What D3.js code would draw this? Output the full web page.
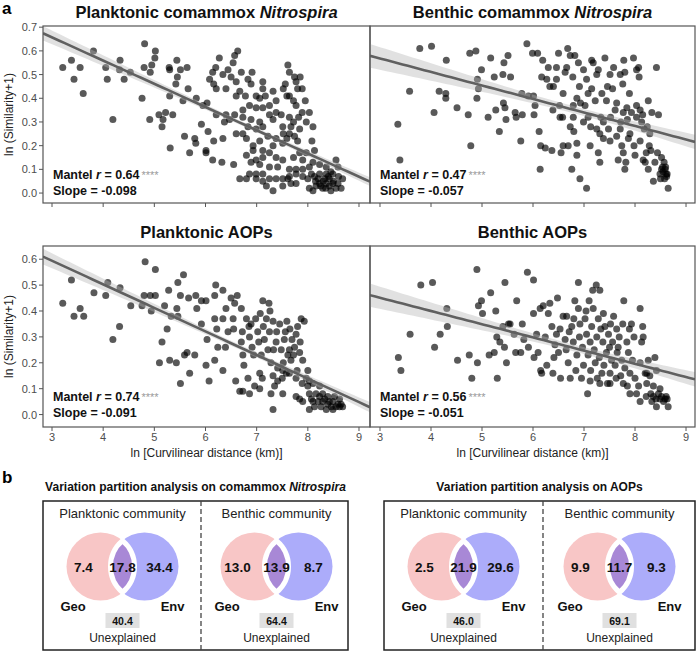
<!DOCTYPE html>
<html><head><meta charset="utf-8">
<script src="https://cdn.jsdelivr.net/npm/d3@7"></script>
<style>
body{margin:0;background:#fff}
svg{display:block}
text{font-family:"Liberation Sans",Arial,Helvetica,sans-serif}
</style>
</head><body>
<svg id="chart" width="697" height="652"></svg>
<script>
// ---------------- DATA ----------------
const xTicks = [3,4,5,6,7,8,9];
const yTicksTop = [0,0.1,0.2,0.3,0.4,0.5,0.6,0.7];
const yTicksBottom = [0,0.1,0.2,0.3,0.4,0.5,0.6];

const panelTitles = [
  ["Planktonic comammox ", "Nitrospira"],
  ["Benthic comammox ", "Nitrospira"],
  ["Planktonic AOPs", ""],
  ["Benthic AOPs", ""]
];
const mantelR = ["0.64","0.47","0.74","0.56"];
const slopeLabels = ["-0.098","-0.057","-0.091","-0.051"];
const slopes = [-0.098,-0.057,-0.091,-0.051];
const intercepts = [0.951,0.739,0.867,0.604];
const ciLeft = [0.03,0.05,0.03,0.045];

const pkComammox = [
[3.21,0.53],[3.38,0.56],[3.55,0.53],[3.43,0.48],[3.61,0.42],[3.81,0.60],[4.05,0.53],[4.08,0.48],[4.33,0.56],[4.32,0.52],[4.41,0.48],[4.53,0.51],[4.19,0.31],[4.76,0.40],[4.81,0.63],[5.02,0.60],[4.80,0.53],[4.95,0.54],[5.01,0.57],[4.92,0.51],[5.29,0.53],[5.30,0.52],[5.44,0.56],[5.51,0.52],[5.64,0.53],[5.45,0.49],[5.42,0.46],[5.66,0.44],[5.30,0.41],[5.56,0.39],[5.82,0.40],[5.95,0.37],[6.03,0.38],[4.91,0.31],[5.09,0.33],[5.22,0.34],[5.36,0.33],[5.15,0.28],[5.17,0.31],[5.59,0.24],[5.79,0.23],[5.81,0.21],[5.31,0.19],[5.69,0.17],[6.01,0.18],[6.05,0.26],[5.92,0.29],[6.14,0.14],[6.32,0.13],[6.55,0.12],[6.34,0.23],[6.16,0.22],[6.01,0.17],
[6.27,0.57],[6.20,0.53],[6.14,0.51],[6.08,0.48],[6.16,0.46],[6.34,0.50],[6.21,0.44],[6.40,0.44],[6.44,0.52],[6.54,0.55],[6.50,0.49],[6.57,0.58],[6.63,0.60],[6.70,0.51],[6.60,0.47],[6.67,0.43],[6.60,0.41],[6.91,0.51],[6.83,0.48],[6.89,0.46],[6.78,0.41],[6.99,0.41],[7.06,0.40],[7.17,0.41],[7.12,0.47],[7.12,0.44],[7.32,0.43],[7.38,0.39],[7.25,0.37],[7.12,0.36],[6.99,0.36],[6.86,0.37],[6.73,0.35],[6.57,0.33],[6.47,0.31],[6.37,0.30],[6.21,0.33],[6.40,0.33],[6.73,0.32],[6.89,0.31],[7.06,0.30],[7.25,0.33],[7.38,0.34],[7.48,0.33],[7.32,0.31],[7.12,0.28],[6.99,0.27],[6.83,0.28],[6.73,0.25],[6.60,0.25],[6.80,0.23],[6.93,0.20],[7.06,0.22],[7.22,0.24],[7.38,0.23],[7.51,0.28],[7.64,0.25],[7.51,0.21],[7.32,0.20],[7.12,0.18],[6.93,0.18],[6.80,0.16],[6.99,0.14],[7.12,0.15],[7.25,0.17],[7.38,0.15],[7.51,0.14],[7.41,0.11],[7.25,0.11],[7.06,0.12],[6.89,0.13],[6.86,0.08],[6.99,0.08],[7.12,0.08],[6.67,0.06],[6.80,0.06],[6.99,0.06],[7.12,0.05],[7.25,0.06],[7.38,0.06],[7.51,0.06],[7.64,0.07],[7.32,0.01],[7.19,0.03],[7.51,0.03],[7.67,0.04],[7.77,0.08],
[7.61,0.54],[7.64,0.51],[7.74,0.49],[7.77,0.47],[7.85,0.49],[7.56,0.46],[7.52,0.44],[7.64,0.41],[7.80,0.44],[7.89,0.44],[7.59,0.41],[7.72,0.39],[7.95,0.39],[7.77,0.37],[7.89,0.34],[8.03,0.34],[7.82,0.32],[7.64,0.32],[7.72,0.30],[7.97,0.30],[8.10,0.28],[7.84,0.27],[7.67,0.28],[7.74,0.24],[7.80,0.22],[7.59,0.23],[7.52,0.25],[8.08,0.22],[8.13,0.18],[7.97,0.17],[7.84,0.17],[7.72,0.15],[7.90,0.14],[8.10,0.13],[8.23,0.12],[8.03,0.11],[7.90,0.10],[7.77,0.10],[7.64,0.10],[7.61,0.06],[7.77,0.04],[7.90,0.07],[8.00,0.06],[8.13,0.07],[8.23,0.08],[8.36,0.08],[8.49,0.08],[8.59,0.11],[8.55,0.14],[8.68,0.06],[8.59,0.04],[8.49,0.04],[8.36,0.04],[8.23,0.04],[8.16,0.03],[8.03,0.02],[8.10,0.01],[8.29,0.02],[8.42,0.03],[8.55,0.02],[8.65,0.02],[8.33,0.06],[8.42,0.06],[8.20,0.06],[8.07,0.08],[8.36,0.11],[8.45,0.09],
[8.30,0.05],[8.40,0.07],[8.50,0.05],[8.25,0.03],[8.45,0.01],[8.60,0.07],[8.15,0.05],[8.35,0.02]
];

const bnComammox = [
[3.35,0.29],[3.39,0.14],[3.58,0.43],[3.78,0.61],[4.01,0.62],[4.06,0.34],[4.16,0.43],[4.29,0.42],[4.29,0.40],[4.30,0.56],[4.51,0.36],[4.73,0.33],[4.76,0.59],[4.88,0.60],[4.78,0.20],[4.91,0.48],[4.93,0.44],[4.90,0.40],[4.99,0.52],[5.12,0.32],[5.17,0.57],[5.24,0.49],[5.27,0.35],[5.34,0.26],[5.41,0.50],[5.42,0.38],[5.43,0.55],[5.45,0.36],[5.47,0.31],[5.51,0.58],[5.56,0.49],[5.65,0.34],[5.67,0.32],[5.76,0.22],[5.79,0.33],[5.78,0.42],[5.88,0.63],[5.91,0.41],[6.01,0.41],[5.99,0.59],[6.04,0.37],[6.02,0.33],[6.09,0.59],[6.12,0.26],[6.15,0.20],[6.14,0.10],[6.19,0.56],[6.24,0.19],[6.27,0.48],[6.30,0.53],[6.33,0.45],[6.39,0.35],[6.37,0.18],[6.40,0.45],[6.46,0.53],[6.50,0.59],[6.52,0.37],[6.53,0.32],[6.55,0.17],[6.58,0.32],[6.63,0.51],[6.66,0.53],[6.68,0.61],[6.69,0.20],[6.73,0.58],[6.76,0.10],[6.78,0.49],[6.79,0.37],[6.79,0.32],[6.80,0.26],[6.82,0.58],[6.86,0.16],[6.89,0.55],[6.91,0.45],[6.92,0.06],[6.93,0.38],[6.99,0.52],[7.02,0.37],[7.05,0.48],[7.08,0.42],[7.08,0.32],[7.12,0.20],[7.13,0.28],[7.15,0.44],[7.15,0.56],[7.18,0.55],[7.22,0.39],[7.25,0.50],[7.28,0.52],[7.28,0.17],[7.31,0.13],[7.33,0.32],[7.35,0.42],[7.38,0.23],[7.41,0.57],[7.44,0.39],[7.46,0.45],[7.48,0.27],[7.51,0.50],[7.52,0.32],[7.56,0.44],[7.58,0.53],[7.61,0.35],[7.64,0.38],[7.64,0.24],[7.67,0.14],[7.71,0.50],[7.72,0.30],[7.74,0.20],[7.76,0.46],[7.77,0.17],[7.78,0.56],[7.80,0.51],[7.80,0.10],[7.82,0.13],[7.84,0.36],[7.85,0.31],[7.89,0.42],[7.90,0.25],[7.93,0.34],[7.97,0.57],[7.98,0.20],[8.00,0.16],[8.03,0.52],[8.03,0.37],[8.07,0.53],[8.08,0.49],[8.10,0.22],[8.13,0.30],[8.15,0.33],[8.16,0.14],[8.18,0.27],[8.20,0.13],[8.22,0.17],[8.24,0.28],[8.26,0.10],[8.28,0.20],[8.31,0.18],[8.33,0.34],[8.36,0.05],[8.39,0.13],[8.42,0.53],[8.44,0.17],[8.46,0.33],[8.49,0.08],[8.52,0.15],[8.54,0.11],[8.57,0.13],[8.59,0.10],[8.61,0.08],[8.62,0.07],[8.65,0.02],[7.05,0.02],[6.17,0.49],[6.46,0.48],[6.59,0.42],[6.86,0.40],[6.99,0.30],[7.38,0.30],[7.31,0.25],[7.51,0.22],[7.71,0.27],[7.87,0.23],[7.77,0.34],[8.03,0.32],[8.10,0.35],[8.29,0.25],[8.26,0.39],[6.59,0.20],[6.73,0.28],[6.86,0.21],[7.25,0.27],
[8.55,0.09],[8.60,0.11],[8.58,0.06],[8.63,0.08],[8.52,0.10],[8.50,0.06]
];

const pkAOP = [
[3.21,0.43],[3.38,0.52],[3.43,0.38],[3.55,0.41],[3.62,0.38],[3.82,0.47],[4.05,0.46],[4.09,0.51],[4.19,0.29],[4.32,0.34],[4.33,0.49],[4.54,0.42],[4.76,0.42],[4.80,0.46],[4.82,0.59],[4.92,0.46],[4.94,0.40],[5.02,0.56],[5.02,0.46],[5.10,0.20],[5.15,0.28],[5.20,0.42],[5.25,0.33],[5.28,0.48],[5.30,0.21],[5.33,0.38],[5.43,0.20],[5.44,0.41],[5.46,0.38],[5.46,0.51],[5.51,0.12],[5.51,0.46],[5.57,0.54],[5.59,0.23],[5.64,0.24],[5.67,0.45],[5.69,0.16],[5.79,0.23],[5.81,0.46],[5.83,0.41],[5.92,0.44],[5.92,0.35],[6.01,0.44],[6.03,0.29],[6.01,0.19],[6.07,0.13],[6.18,0.46],[6.18,0.37],[6.20,0.50],[6.18,0.21],[6.22,0.33],[6.24,0.26],[6.34,0.48],[6.34,0.37],[6.34,0.17],[6.39,0.26],[6.40,0.41],[6.44,0.32],[6.50,0.45],[6.54,0.37],[6.55,0.33],[6.57,0.43],[6.59,0.13],[6.62,0.46],[6.67,0.09],[6.70,0.41],[6.70,0.28],[6.72,0.32],[6.73,0.23],[6.75,0.19],[6.80,0.37],[6.83,0.14],[6.85,0.34],[6.86,0.30],[6.89,0.35],[6.91,0.26],[6.94,0.23],[6.96,0.11],[6.98,0.37],[7.02,0.32],[7.04,0.28],[7.06,0.16],[7.07,0.39],[7.09,0.23],[7.11,0.14],[7.12,0.44],[7.13,0.34],[7.15,0.29],[7.19,0.37],[7.22,0.25],[7.24,0.43],[7.25,0.32],[7.26,0.40],[7.28,0.20],[7.28,0.08],[7.32,0.36],[7.32,0.02],[7.33,0.25],[7.35,0.11],[7.38,0.28],[7.39,0.32],[7.41,0.18],[7.45,0.35],[7.48,0.25],[7.50,0.14],[7.51,0.08],[7.52,0.20],[7.54,0.29],[7.56,0.32],[7.58,0.16],[7.59,0.36],[7.61,0.23],[7.64,0.25],[7.65,0.33],[7.67,0.21],[7.69,0.29],[7.72,0.23],[7.74,0.26],[7.77,0.31],[7.79,0.17],[7.80,0.34],[7.84,0.24],[7.85,0.28],[7.87,0.37],[7.89,0.12],[7.90,0.21],[7.93,0.36],[7.97,0.14],[8.00,0.11],[8.03,0.08],[8.07,0.06],[8.10,0.12],[8.13,0.03],[8.16,0.08],[8.20,0.05],[8.23,0.07],[8.26,0.03],[8.29,0.05],[8.33,0.06],[8.36,0.02],[8.39,0.04],[8.42,0.05],[8.46,0.03],[8.49,0.05],[8.52,0.07],[8.55,0.03],[8.59,0.04],[8.62,0.03],[8.65,0.04],[8.68,0.03],[7.84,0.06],[7.77,0.07],[7.90,0.05],[8.03,0.02],[8.10,0.05],[8.23,0.11],[8.29,0.08],[8.39,0.07],[8.49,0.02],[8.62,0.06],[8.00,0.17],[8.03,0.13],[7.77,0.14],[7.64,0.16],[7.51,0.17],[7.32,0.15],[7.41,0.13],[7.06,0.10],[6.86,0.08],[6.73,0.09]
];

const bnAOP = [
[3.36,0.22],[3.41,0.17],[3.59,0.31],[3.80,0.50],[4.03,0.51],[4.07,0.26],[4.18,0.31],[4.31,0.41],[4.32,0.34],[4.52,0.21],[4.75,0.23],[4.80,0.14],[4.91,0.20],[4.93,0.42],[4.90,0.56],[4.99,0.44],[5.01,0.39],[5.14,0.23],[5.17,0.47],[5.24,0.24],[5.27,0.40],[5.29,0.30],[5.30,0.14],[5.35,0.28],[5.41,0.34],[5.44,0.26],[5.45,0.51],[5.48,0.20],[5.52,0.35],[5.55,0.35],[5.63,0.31],[5.66,0.24],[5.68,0.44],[5.76,0.24],[5.79,0.35],[5.82,0.29],[5.89,0.55],[5.91,0.26],[6.01,0.52],[6.01,0.39],[6.02,0.22],[6.07,0.31],[6.10,0.24],[6.14,0.41],[6.15,0.17],[6.17,0.16],[6.20,0.42],[6.24,0.30],[6.27,0.19],[6.30,0.39],[6.33,0.43],[6.37,0.34],[6.39,0.16],[6.41,0.22],[6.43,0.27],[6.46,0.31],[6.48,0.45],[6.50,0.24],[6.53,0.33],[6.54,0.14],[6.59,0.38],[6.63,0.29],[6.65,0.25],[6.66,0.38],[6.69,0.20],[6.71,0.32],[6.73,0.14],[6.76,0.34],[6.79,0.28],[6.80,0.37],[6.82,0.44],[6.84,0.17],[6.86,0.23],[6.89,0.51],[6.89,0.41],[6.91,0.30],[6.92,0.35],[6.95,0.14],[6.97,0.26],[6.99,0.19],[7.02,0.37],[7.04,0.40],[7.05,0.31],[7.07,0.08],[7.08,0.23],[7.10,0.44],[7.12,0.28],[7.13,0.17],[7.15,0.34],[7.17,0.48],[7.18,0.41],[7.20,0.25],[7.22,0.20],[7.24,0.50],[7.25,0.30],[7.26,0.14],[7.28,0.37],[7.30,0.22],[7.31,0.48],[7.33,0.33],[7.35,0.16],[7.37,0.28],[7.38,0.39],[7.39,0.19],[7.41,0.34],[7.44,0.24],[7.46,0.12],[7.48,0.31],[7.50,0.26],[7.51,0.16],[7.52,0.35],[7.54,0.21],[7.56,0.28],[7.58,0.38],[7.61,0.19],[7.63,0.14],[7.64,0.33],[7.65,0.24],[7.67,0.26],[7.69,0.30],[7.72,0.15],[7.74,0.21],[7.76,0.35],[7.77,0.12],[7.78,0.44],[7.80,0.18],[7.84,0.28],[7.85,0.11],[7.87,0.24],[7.89,0.33],[7.90,0.16],[7.93,0.35],[7.95,0.21],[7.98,0.30],[8.00,0.14],[8.03,0.08],[8.07,0.11],[8.10,0.41],[8.10,0.20],[8.13,0.28],[8.15,0.34],[8.16,0.30],[8.20,0.16],[8.22,0.07],[8.23,0.12],[8.26,0.21],[8.29,0.15],[8.31,0.08],[8.33,0.05],[8.36,0.11],[8.39,0.22],[8.41,0.06],[8.42,0.17],[8.46,0.08],[8.49,0.06],[8.52,0.07],[8.56,0.05],[8.59,0.06],[8.61,0.07],[8.63,0.06],[8.65,0.03],[8.36,0.07],[8.42,0.03],[8.49,0.10],[7.51,0.12],[7.31,0.12],[7.12,0.13],[7.90,0.08],[8.10,0.05],[8.23,0.16]
];

// Venn (variation partitioning)
const vennTitles = [["Variation partition analysis on comammox ","Nitrospira"],["Variation partition analysis on AOPs",""]];
const vennCommunities = ["Planktonic community","Benthic community","Planktonic community","Benthic community"];
const geoOnly = ["7.4","13.0","2.5","9.9"];
const shared = ["17.8","13.9","21.9","11.7"];
const envOnly = ["34.4","8.7","29.6","9.3"];
const unexplained = ["40.4","64.4","46.0","69.1"];

// ---------------- DRAW ----------------
const svg = d3.select("#chart");
svg.append("rect").attr("width",697).attr("height",652).attr("fill","#fff");

const colX = [[43,370],[370,695]];
const colDomain = [[2.824,9.215],[2.804,9.176]];
const rowY = [[203,26],[427,246]];
const rowDomain = [[-0.042,0.705],[-0.048,0.651]];
const rowTicks = [yTicksTop, yTicksBottom];
const datasets = [pkComammox, bnComammox, pkAOP, bnAOP];

const fmt = d3.format(".1f");
const defs = svg.append("defs");

datasets.forEach((data,i)=>{
  const col = i%2, row = Math.floor(i/2);
  const x = d3.scaleLinear().domain(colDomain[col]).range(colX[col]);
  const y = d3.scaleLinear().domain(rowDomain[row]).range(rowY[row]);
  const g = svg.append("g");
  const x0 = colX[col][0], x1 = colX[col][1], yT = rowY[row][1], yB = rowY[row][0];

  defs.append("clipPath").attr("id","clip"+i).append("rect")
    .attr("x",x0).attr("y",yT).attr("width",x1-x0).attr("height",yB-yT);

  const plot = g.append("g").attr("clip-path",`url(#clip${i})`);

  // points
  plot.selectAll("circle").data(data).join("circle")
    .attr("cx",d=>x(d[0])).attr("cy",d=>y(d[1])).attr("r",3.5)
    .attr("fill","#000").attr("fill-opacity",0.65);

  // confidence band
  const n = data.length, xbar = d3.mean(data,d=>d[0]);
  const sxx = d3.sum(data,d=>(d[0]-xbar)**2);
  const shape = xv => Math.sqrt(1/n + (xv-xbar)**2/sxx);
  const dom = colDomain[col];
  const k = ciLeft[i]/shape(dom[0]);
  const xs = d3.range(0,61).map(j=>dom[0]+(dom[1]-dom[0])*j/60);
  const fit = xv => intercepts[i] + slopes[i]*xv;
  plot.append("path").datum(xs)
    .attr("d", d3.area().x(d=>x(d)).y0(d=>y(fit(d)-k*shape(d))).y1(d=>y(fit(d)+k*shape(d))))
    .attr("fill","#b5b5b5").attr("fill-opacity",0.4);
  plot.append("path").datum(xs)
    .attr("d", d3.line().x(d=>x(d)).y(d=>y(fit(d))))
    .attr("fill","none").attr("stroke","#606060").attr("stroke-width",2.6);

  // frame
  g.append("rect").attr("x",x0).attr("y",yT).attr("width",x1-x0).attr("height",yB-yT)
    .attr("fill","none").attr("stroke","#555").attr("stroke-width",1.2);

  // x ticks
  g.selectAll(".xt").data(xTicks).join("line")
    .attr("x1",d=>x(d)).attr("x2",d=>x(d)).attr("y1",yB).attr("y2",yB+4)
    .attr("stroke","#555").attr("stroke-width",1);
  if(row===1){
    g.selectAll(".xl").data(xTicks).join("text")
      .attr("x",d=>x(d)).attr("y",yB+14).attr("text-anchor","middle")
      .attr("font-size",11).attr("fill","#4d4d4d").text(d=>d);
    g.append("text").attr("x",(x0+x1)/2).attr("y",yB+30).attr("text-anchor","middle")
      .attr("font-size",12).attr("fill","#222").text("ln [Curvilinear distance (km)]");
  }
  if(col===0){
    g.selectAll(".yt").data(rowTicks[row]).join("line")
      .attr("x1",x0-4).attr("x2",x0).attr("y1",d=>y(d)).attr("y2",d=>y(d))
      .attr("stroke","#555").attr("stroke-width",1);
    g.selectAll(".yl").data(rowTicks[row]).join("text")
      .attr("x",x0-6).attr("y",d=>y(d)).attr("dy","0.36em").attr("text-anchor","end")
      .attr("font-size",11).attr("fill","#4d4d4d").text(d=>fmt(d));
    g.append("text").attr("transform",`translate(13,${(yT+yB)/2}) rotate(-90)`)
      .attr("text-anchor","middle").attr("font-size",12).attr("fill","#222")
      .text("ln (Similarity+1)");
  }

  // title
  const t = g.append("text").attr("x",(x0+x1)/2).attr("y",yT-8).attr("text-anchor","middle")
    .attr("font-size",16.5).attr("font-weight","bold").attr("fill","#111");
  t.append("tspan").text(panelTitles[i][0]);
  if(panelTitles[i][1]) t.append("tspan").attr("font-style","italic").text(panelTitles[i][1]);

  // annotations
  const ax = x0+10, y0 = y(0);
  const m = g.append("text").attr("x",ax).attr("y",y0-14).attr("font-size",12.5)
    .attr("font-weight","bold").attr("fill","#111");
  m.append("tspan").text("Mantel ");
  m.append("tspan").attr("font-style","italic").text("r");
  m.append("tspan").text(" = "+mantelR[i]);
  m.append("tspan").attr("font-weight","normal").attr("fill","#9a9a9a").attr("font-size",11).attr("dx",2).text("****");
  g.append("text").attr("x",ax).attr("y",y0+2).attr("font-size",12.5)
    .attr("font-weight","bold").attr("fill","#111").text("Slope = "+slopeLabels[i]);
});

// panel letters
svg.append("text").attr("x",2).attr("y",14).attr("font-size",17).attr("font-weight","bold").text("a");
svg.append("text").attr("x",2).attr("y",483).attr("font-size",17).attr("font-weight","bold").text("b");

// ---------------- VENN ----------------
const boxes = [[43,348,201],[384,695,543]];
const boxTop = 501, boxBottom = 650;
boxes.forEach((b,bi)=>{
  const tt = svg.append("text").attr("x",(b[0]+b[1])/2).attr("y",491).attr("text-anchor","middle")
    .attr("font-size",12).attr("font-weight","bold").attr("fill","#111");
  tt.append("tspan").text(vennTitles[bi][0]);
  if(vennTitles[bi][1]) tt.append("tspan").attr("font-style","italic").text(vennTitles[bi][1]);
  svg.append("rect").attr("x",b[0]).attr("y",boxTop).attr("width",b[1]-b[0]).attr("height",boxBottom-boxTop)
    .attr("fill","none").attr("stroke","#222").attr("stroke-width",1.5);
  svg.append("line").attr("x1",b[2]).attr("x2",b[2]).attr("y1",boxTop).attr("y2",boxBottom)
    .attr("stroke","#444").attr("stroke-width",1.3).attr("stroke-dasharray","5,3");
});

const mids = [122.5, 276.5, 463.5, 619.5];
const cy = 566.5, R = 34, half = 22;
const hh = Math.sqrt(R*R-half*half);
mids.forEach((mx,i)=>{
  const g = svg.append("g");
  g.append("text").attr("x",mx).attr("y",518).attr("text-anchor","middle").attr("font-size",13)
    .attr("fill","#222").text(vennCommunities[i]);
  g.append("circle").attr("cx",mx-half).attr("cy",cy).attr("r",R).attr("fill","#f8c6c6");
  g.append("circle").attr("cx",mx+half).attr("cy",cy).attr("r",R).attr("fill","#acacfa");
  g.append("path")
    .attr("d",`M${mx},${cy-hh} A${R},${R} 0 0 1 ${mx},${cy+hh} A${R},${R} 0 0 1 ${mx},${cy-hh} Z`)
    .attr("fill","#a888d6").attr("stroke","#fff").attr("stroke-width",5);
  const nums = [[mx-39,geoOnly[i]],[mx,shared[i]],[mx+37,envOnly[i]]];
  g.selectAll(".n").data(nums).join("text").attr("x",d=>d[0]).attr("y",cy+5)
    .attr("text-anchor","middle").attr("font-size",13.5).attr("font-weight","bold").attr("fill","#111")
    .text(d=>d[1]);
  g.append("text").attr("x",mx-62).attr("y",611).attr("font-size",13).attr("font-weight","bold")
    .attr("fill","#111").text("Geo");
  g.append("text").attr("x",mx+62).attr("y",611).attr("text-anchor","end").attr("font-size",13)
    .attr("font-weight","bold").attr("fill","#111").text("Env");
  g.append("rect").attr("x",mx-17).attr("y",613).attr("width",34).attr("height",15).attr("fill","#e0e0e0");
  g.append("text").attr("x",mx).attr("y",624.5).attr("text-anchor","middle").attr("font-size",10.5)
    .attr("font-weight","bold").attr("fill","#111").text(unexplained[i]);
  g.append("text").attr("x",mx).attr("y",642).attr("text-anchor","middle").attr("font-size",12)
    .attr("fill","#222").text("Unexplained");
});
</script>
</body></html>
